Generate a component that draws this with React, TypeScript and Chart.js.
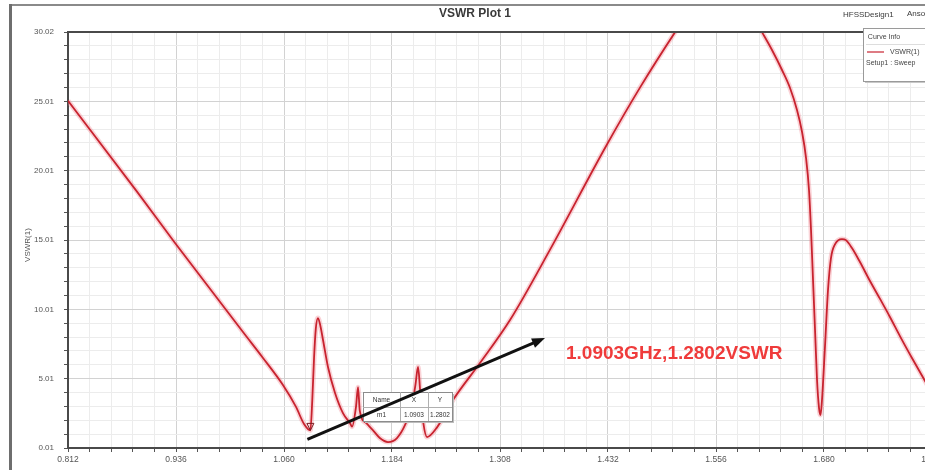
import React, { useEffect, useRef } from 'react';
import { Chart, registerables } from 'chart.js';

Chart.register(...registerables);

// Sweep frequencies (GHz) and the simulated VSWR at each one
const freqGHz = [
  0.812, 0.8912, 0.9349, 1.0129, 1.0359, 1.0588, 1.0738, 1.083, 1.0903, 1.0925,
  1.0945, 1.0965, 1.099, 1.1015, 1.1048, 1.1105, 1.1186, 1.1277, 1.1358, 1.1381,
  1.1427, 1.145, 1.147, 1.1545, 1.162, 1.17, 1.1794, 1.1897, 1.199, 1.207,
  1.211, 1.2139, 1.2165, 1.22, 1.2242, 1.2357, 1.254, 1.285, 1.3195, 1.3653,
  1.4308, 1.4687, 1.509, 1.535, 1.56, 1.585, 1.6088, 1.6203, 1.6318, 1.641,
  1.649, 1.6548, 1.6594, 1.6628, 1.6651, 1.6674, 1.6697, 1.672, 1.6743, 1.676,
  1.6777, 1.6811, 1.6846, 1.688, 1.6926, 1.7006, 1.7052, 1.7121, 1.7213, 1.7328,
  1.7443, 1.7557, 1.7672, 1.781, 1.796, 1.804,
];
const vswr = [
  25.05, 18.5, 14.8, 8.37, 6.5, 4.55, 2.97, 1.74, 1.2802, 3.5,
  6.5, 8.6, 9.38, 8.9, 7.8, 5.85, 3.98, 2.53, 1.8, 1.55,
  3.0, 4.4, 2.7, 1.8, 1.3, 0.73, 0.44, 0.73, 1.67, 3.1,
  4.6, 5.85, 4.0, 1.8, 0.8, 1.5, 3.47, 6.14, 9.24, 14.3,
  21.9, 26.0, 30.0, 32.4, 33.6, 32.6, 30.0, 28.71, 27.27, 25.97,
  24.38, 22.8, 20.92, 18.6, 15.73, 12.12, 8.52, 4.91, 2.89, 2.39,
  3.47, 7.29, 11.4, 13.7, 14.7, 15.08, 15.0, 14.43, 13.42, 12.05,
  10.76, 9.46, 8.08, 6.5, 4.84, 3.98,
];

// Axis ranges, grid subdivisions and the printed tick labels
const xMin = 0.812;
const xMax = 1.804;
const xMinorStep = 0.0248;
const yMin = 0.01;
const yMax = 30.01;
const yMinorStep = 1;
const minorPerMajor = 5;
const xTickLabels = ['0.812', '0.936', '1.060', '1.184', '1.308', '1.432', '1.556', '1.680', '1.804'];
const yTickLabels = ['0.01', '5.01', '10.01', '15.01', '20.01', '25.01', '30.02'];

// Marker m1
const markerName = 'm1';
const markerFreq = 1.0903;
const markerVswr = 1.2802;
const markerText = '1.0903GHz,1.2802VSWR';

const plotTitle = 'VSWR Plot 1';
const designName = 'HFSSDesign1';
const vendorName = 'Ansoft';
const traceName = 'VSWR(1)';
const sweepName = 'Setup1 : Sweep';
const yAxisTitle = 'VSWR(1)';

const FONT = '"Liberation Sans", Arial, sans-serif';
const CURVE = '#c8232f';

const xGrid: number[] = [];
for (let k = 0; k <= Math.round((xMax - xMin) / xMinorStep); k++) {
  xGrid.push(Math.round((xMin + k * xMinorStep) * 10000) / 10000);
}
const yGrid: number[] = [];
for (let k = 0; k <= Math.round((yMax - yMin) / yMinorStep); k++) {
  yGrid.push(Math.round((yMin + k * yMinorStep) * 100) / 100);
}

const points = freqGHz.map((f, i) => ({ x: f, y: vswr[i] }));

const gridColor = (c: any) => (c.index % minorPerMajor === 0 ? '#d2d2d2' : '#ececec');

const decorPlugin = {
  id: 'decor',
  beforeDraw(chart: any) {
    const { ctx, width, height } = chart;
    ctx.save();
    ctx.fillStyle = '#ffffff';
    ctx.fillRect(0, 0, width, height);
    ctx.restore();
  },
  afterDraw(chart: any) {
    const { ctx, chartArea: a, scales } = chart;
    const xs = scales.x;
    const ys = scales.y;
    ctx.save();

    // window frame
    ctx.fillStyle = '#8a8a8a';
    ctx.fillRect(9, 4, chart.width, 2);
    ctx.fillStyle = '#6e6e6e';
    ctx.fillRect(9, 4, 3, chart.height);

    // top edge of the plot box
    ctx.strokeStyle = '#4a4a4a';
    ctx.lineWidth = 2;
    ctx.beginPath();
    ctx.moveTo(a.left, a.top);
    ctx.lineTo(a.right, a.top);
    ctx.stroke();

    // title and header texts
    ctx.fillStyle = '#3a3a3a';
    ctx.font = `bold 12px ${FONT}`;
    ctx.textAlign = 'center';
    ctx.textBaseline = 'middle';
    ctx.fillText(plotTitle, 475, 14);
    ctx.font = `8px ${FONT}`;
    ctx.textAlign = 'left';
    ctx.fillText(designName, 843, 15);
    ctx.fillText(vendorName, 907, 14);

    // y axis title
    ctx.save();
    ctx.translate(28, 245);
    ctx.rotate(-Math.PI / 2);
    ctx.font = `8px ${FONT}`;
    ctx.fillStyle = '#555';
    ctx.textAlign = 'center';
    ctx.fillText(yAxisTitle, 0, 0);
    ctx.restore();

    // curve info box
    const lx = 863, ly = 28, lw = 80, lh = 53;
    ctx.fillStyle = '#c8c8c8';
    ctx.fillRect(lx + 2, ly + 2, lw, lh);
    ctx.fillStyle = '#ffffff';
    ctx.fillRect(lx, ly, lw, lh);
    ctx.strokeStyle = '#9a9a9a';
    ctx.lineWidth = 1;
    ctx.strokeRect(lx + 0.5, ly + 0.5, lw, lh);
    ctx.beginPath();
    ctx.moveTo(lx + 3, ly + 16.5);
    ctx.lineTo(lx + lw - 3, ly + 16.5);
    ctx.strokeStyle = '#dddddd';
    ctx.stroke();
    ctx.fillStyle = '#444';
    ctx.font = `7px ${FONT}`;
    ctx.textAlign = 'center';
    ctx.fillText('Curve Info', lx + 21, ly + 9);
    ctx.strokeStyle = CURVE;
    ctx.lineWidth = 1.2;
    ctx.beginPath();
    ctx.moveTo(lx + 4, ly + 24);
    ctx.lineTo(lx + 21, ly + 24);
    ctx.stroke();
    ctx.textAlign = 'left';
    ctx.fillText(traceName, lx + 27, ly + 24);
    ctx.fillText(sweepName, lx + 3, ly + 35);

    // marker m1 on the trace
    const mx = xs.getPixelForValue(markerFreq);
    const my = ys.getPixelForValue(markerVswr);
    ctx.strokeStyle = '#7a1c22';
    ctx.lineWidth = 1;
    ctx.beginPath();
    ctx.moveTo(mx, my);
    ctx.lineTo(mx - 3.5, my - 7);
    ctx.lineTo(mx + 3.5, my - 7);
    ctx.closePath();
    ctx.stroke();

    // marker table
    const tx = 363, ty = 392, tw = 89, th = 29;
    const c1 = 400, c2 = 428;
    ctx.fillStyle = '#bdbdbd';
    ctx.fillRect(tx + 2, ty + 2, tw, th);
    ctx.fillStyle = '#ffffff';
    ctx.fillRect(tx, ty, tw, th);
    ctx.strokeStyle = '#8c8c8c';
    ctx.lineWidth = 1;
    ctx.strokeRect(tx + 0.5, ty + 0.5, tw, th);
    ctx.beginPath();
    ctx.moveTo(tx, ty + 15.5);
    ctx.lineTo(tx + tw, ty + 15.5);
    ctx.moveTo(c1 + 0.5, ty);
    ctx.lineTo(c1 + 0.5, ty + th);
    ctx.moveTo(c2 + 0.5, ty);
    ctx.lineTo(c2 + 0.5, ty + th);
    ctx.strokeStyle = '#b0b0b0';
    ctx.stroke();
    ctx.fillStyle = '#333';
    ctx.font = `6.5px ${FONT}`;
    ctx.textAlign = 'center';
    ctx.fillText('Name', (tx + c1) / 2, ty + 8);
    ctx.fillText('X', (c1 + c2) / 2, ty + 8);
    ctx.fillText('Y', (c2 + tx + tw) / 2, ty + 8);
    ctx.fillText(markerName, (tx + c1) / 2, ty + 23);
    ctx.fillText(markerFreq.toFixed(4), (c1 + c2) / 2, ty + 23);
    ctx.fillText(markerVswr.toFixed(4), (c2 + tx + tw) / 2, ty + 23);

    // call-out arrow from the marker
    const sx = mx - 3, sy = my + 9;
    const ex = 545, ey = 338;
    const ang = Math.atan2(ey - sy, ex - sx);
    const head = 13;
    ctx.strokeStyle = '#111';
    ctx.lineWidth = 3;
    ctx.beginPath();
    ctx.moveTo(sx, sy);
    ctx.lineTo(ex - head * 0.8 * Math.cos(ang), ey - head * 0.8 * Math.sin(ang));
    ctx.stroke();
    ctx.fillStyle = '#111';
    ctx.beginPath();
    ctx.moveTo(ex, ey);
    ctx.lineTo(ex - head * Math.cos(ang) + 5 * Math.sin(ang), ey - head * Math.sin(ang) - 5 * Math.cos(ang));
    ctx.lineTo(ex - head * Math.cos(ang) - 5 * Math.sin(ang), ey - head * Math.sin(ang) + 5 * Math.cos(ang));
    ctx.closePath();
    ctx.fill();

    // call-out text
    ctx.fillStyle = '#ef3b3b';
    ctx.font = `bold 19px ${FONT}`;
    ctx.textAlign = 'left';
    ctx.textBaseline = 'middle';
    ctx.fillText(markerText, 566, 354);

    ctx.restore();
  },
};

export default function App() {
  const canvasRef = useRef<HTMLCanvasElement | null>(null);

  useEffect(() => {
    const canvas = canvasRef.current;
    if (!canvas) return;
    const chart = new Chart(canvas, {
      type: 'line',
      data: {
        datasets: [
          {
            data: points,
            borderColor: CURVE,
            borderWidth: 1.8,
            pointRadius: 0,
            cubicInterpolationMode: 'monotone',
            order: 1,
          },
          {
            data: points,
            borderColor: 'rgba(240, 130, 140, 0.35)',
            borderWidth: 5,
            pointRadius: 0,
            cubicInterpolationMode: 'monotone',
            order: 2,
          },
        ],
      },
      options: {
        animation: false,
        responsive: false,
        devicePixelRatio: 1,
        parsing: false,
        layout: { padding: { left: 0, top: 32, right: 28, bottom: 0 } },
        plugins: {
          legend: { display: false },
          tooltip: { enabled: false },
          title: { display: false },
        },
        scales: {
          x: {
            type: 'linear',
            min: xMin,
            max: xMax,
            afterBuildTicks: (s: any) => {
              s.ticks = xGrid.map((v) => ({ value: v }));
            },
            afterFit: (s: any) => {
              s.height = 22;
            },
            ticks: {
              autoSkip: false,
              maxRotation: 0,
              padding: 3,
              color: '#555',
              font: { family: FONT, size: 8.5 },
              callback: (_v: any, i: number) =>
                i % minorPerMajor === 0 ? xTickLabels[i / minorPerMajor] : '',
            },
            grid: { color: gridColor, tickColor: '#555', tickLength: 4, lineWidth: 1 },
            border: { color: '#4a4a4a', width: 2 },
          },
          y: {
            type: 'linear',
            min: yMin,
            max: yMax,
            afterBuildTicks: (s: any) => {
              s.ticks = yGrid.map((v) => ({ value: v }));
            },
            afterFit: (s: any) => {
              s.width = 68;
            },
            ticks: {
              autoSkip: false,
              padding: 10,
              color: '#555',
              font: { family: FONT, size: 8 },
              callback: (_v: any, i: number) =>
                i % minorPerMajor === 0 ? yTickLabels[i / minorPerMajor] : '',
            },
            grid: { color: gridColor, tickColor: '#555', tickLength: 4, lineWidth: 1 },
            border: { color: '#4a4a4a', width: 2 },
          },
        },
      },
      plugins: [decorPlugin],
    } as any);
    return () => chart.destroy();
  }, []);

  return (
    <div
      style={{
        position: 'fixed',
        left: 0,
        top: 0,
        width: 925,
        height: 470,
        overflow: 'hidden',
        background: '#ffffff',
      }}
    >
      <canvas ref={canvasRef} width={960} height={470} style={{ display: 'block' }} />
    </div>
  );
}
